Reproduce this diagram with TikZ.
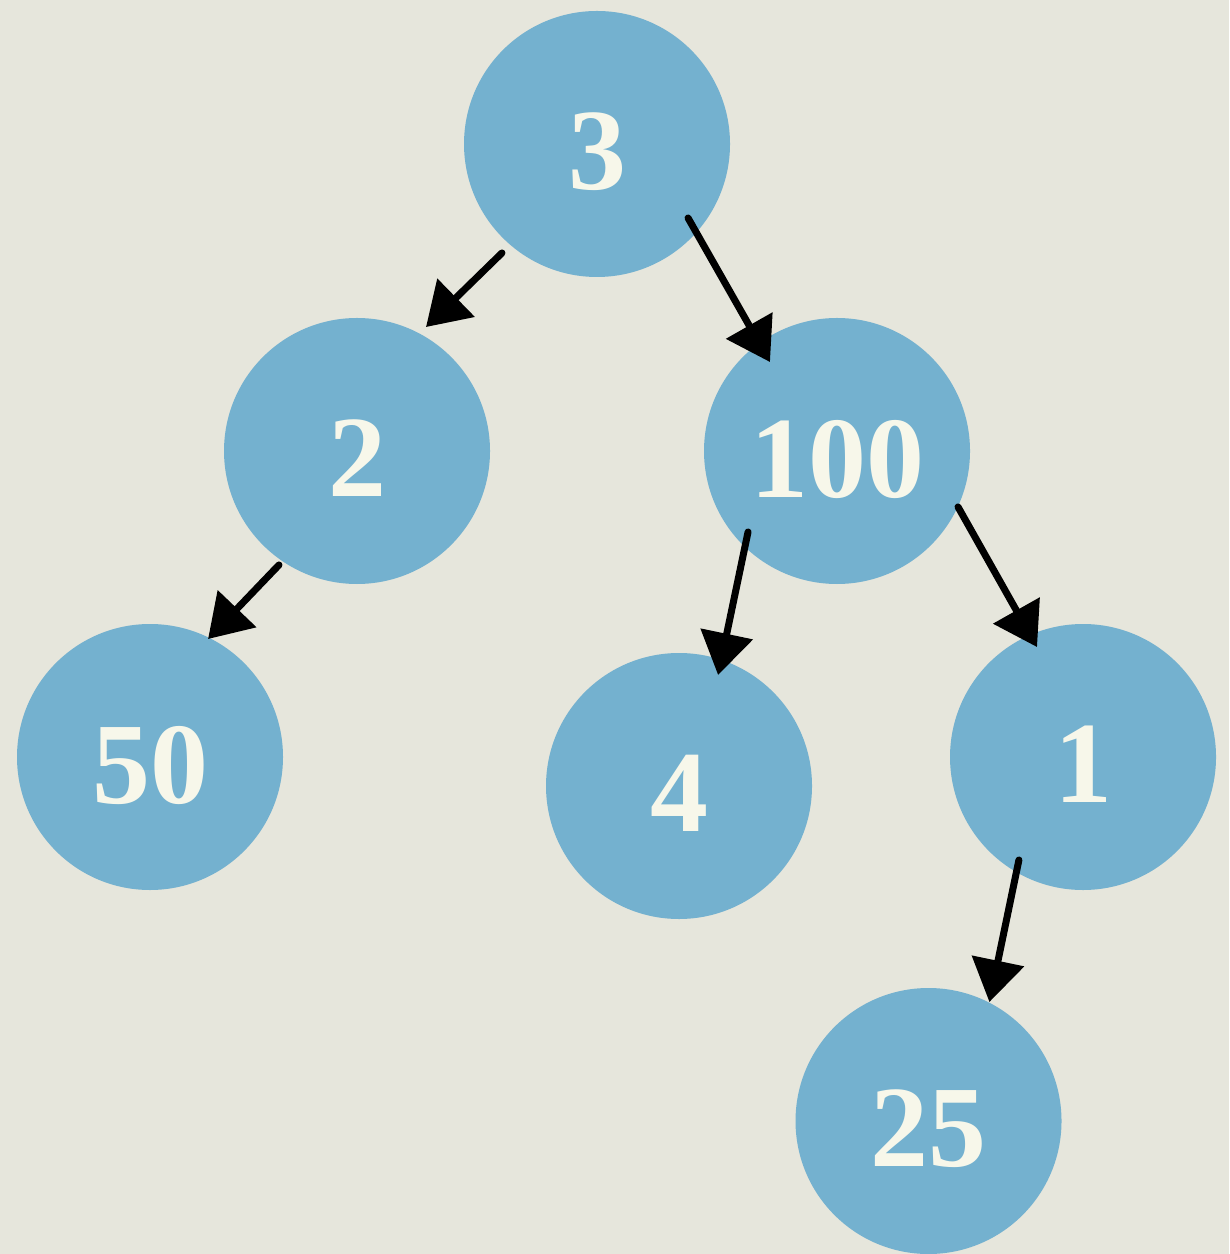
\documentclass[tikz,border=0pt]{standalone}
\usepackage{fontspec}
\setmainfont{Liberation Serif}
\usetikzlibrary{arrows.meta,calc}
\definecolor{paper}{RGB}{230,230,220}
\definecolor{ballblue}{RGB}{116,177,207}
\definecolor{cream}{RGB}{247,247,234}
\tikzset{
  ball/.style={circle, fill=ballblue, draw=none, inner sep=0pt,
    minimum size=2.66cm, text=cream,
    font=\fontsize{33}{33}\selectfont\bfseries},
  edge/.style={line width=0.07cm, line cap=round, black,
    -{Triangle[length=0.42cm, width=0.52cm]}}
}
% digits sit a little below the centre of each ball
\newcommand{\val}[1]{\raisebox{-0.075cm}[\height][0pt]{#1}}
\begin{document}
\begin{tikzpicture}
  % paper background and picture frame
  \fill[paper] (0,0) rectangle (12.29,-12.54);
  \useasboundingbox (0,0) rectangle (12.29,-12.54);

  % tree nodes
  \node[ball] (n3)   at (5.97,-1.44)  {\val{3}};
  \node[ball] (n2)   at (3.57,-4.51)  {\val{2}};
  \node[ball] (n100) at (8.37,-4.51)  {\val{100}};
  \node[ball] (n50)  at (1.50,-7.57)  {\val{50}};
  \node[ball] (n4)   at (6.79,-7.86)  {\val{4}};
  \node[ball] (n1)   at (10.83,-7.57) {\val{1}};
  \node[ball] (n25)  at (9.285,-11.21) {\val{25}};

  % parent-to-child arrows
  \draw[edge] ($(n3)+(-131.1:1.446)$)  -- ($(n2)+(60.9:1.419)$);
  \draw[edge] ($(n3)+(-39.1:1.173)$)   -- ($(n100)+(127.0:1.114)$);
  \draw[edge] ($(n2)+(-124.4:1.381)$)  -- ($(n50)+(63.8:1.315)$);
  \draw[edge] ($(n100)+(-137.7:1.203)$) -- ($(n4)+(70.6:1.177)$);
  \draw[edge] ($(n100)+(-24.8:1.333)$) -- ($(n1)+(112.7:1.192)$);
  \draw[edge] ($(n1)+(-121.9:1.213)$)  -- ($(n25)+(62.9:1.337)$);
\end{tikzpicture}
\end{document}
